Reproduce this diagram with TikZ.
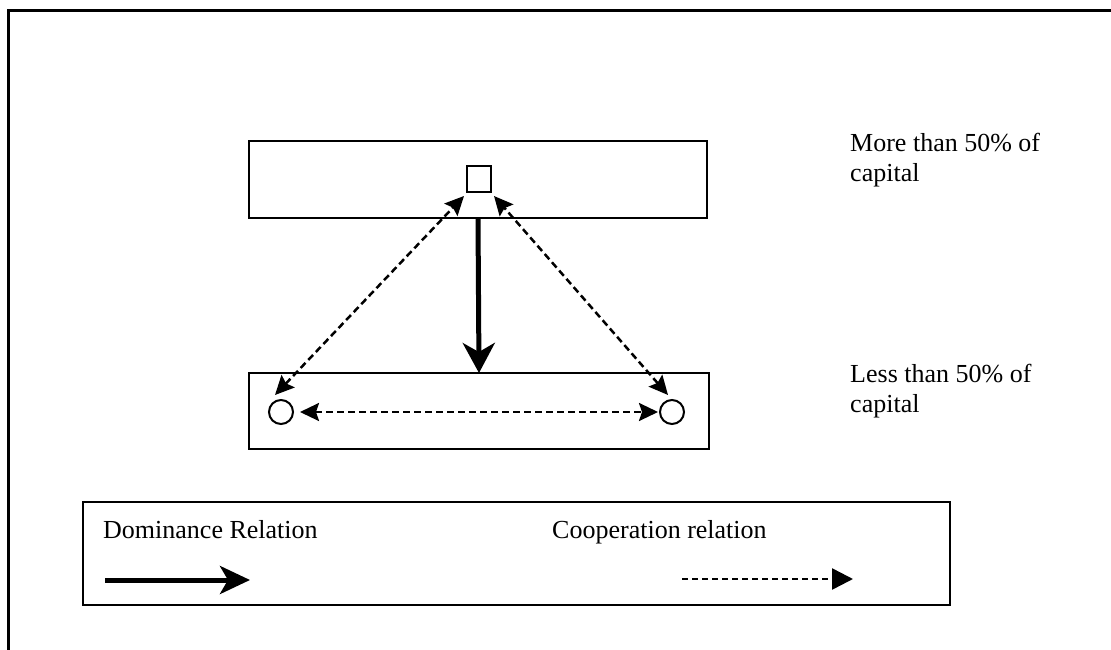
\documentclass[tikz,border=0pt]{standalone}
\usepackage{fontspec}
\setmainfont{Liberation Serif}
\usetikzlibrary{arrows.meta}
\begin{document}
\begin{tikzpicture}[x=1pt,y=-1pt,
  box/.style={draw, line width=2pt, inner sep=0pt, outer sep=0pt, rectangle},
  ring/.style={draw, line width=2pt, circle, inner sep=0pt, outer sep=0pt, minimum size=24pt},
  domarrow/.style={line width=5pt, -{Stealth[length=30pt,width=32pt,inset=9pt]}},
  legdom/.style={line width=5pt, -{Stealth[length=30pt,width=28pt,inset=8pt]}},
  coop/.style={line width=2.5pt, dash pattern=on 7pt off 4pt,
    {Stealth[length=19pt,width=18pt,inset=3pt]}-{Stealth[length=19pt,width=18pt,inset=3pt]}},
  legcoop/.style={line width=2.5pt, dash pattern=on 6pt off 4pt, -{Triangle[length=21pt,width=21pt]}},
  lbl/.style={anchor=base west, inner sep=0pt, font=\fontsize{26}{30}\selectfont, align=left}
]
\useasboundingbox (0,0) rectangle (1111,650);
% outer frame
\draw[line width=3pt] (8,660) -- (8,11) -- (1120,11);

% boxes
\node[box, minimum width=458pt, minimum height=77pt] (top) at (478,179.5) {};
\node[box, minimum width=24pt, minimum height=26pt] (sq) at (479,179) {};
\node[box, minimum width=460pt, minimum height=76pt] (bot) at (479,411) {};
\node[ring] (cl) at (281,412) {};
\node[ring] (cr) at (672,412) {};

% relations
\draw[domarrow] (top.south) -- (bot.north);
\draw[coop] ([shift={(-6,-17)}]cl.center) -- ([shift={(-3,4)}]sq.south west);
\draw[coop] ([shift={(-4,-17)}]cr.center) -- ([shift={(3,4)}]sq.south east);
\draw[coop] ([shift={(7,0)}]cl.east) -- ([shift={(-2,0)}]cr.west);

% side labels
\node[lbl] (more) at (850,181) {More than 50\% of\\capital};
\node[lbl] (less) at (850,412) {Less than 50\% of\\capital};

% legend
\node[box, minimum width=867pt, minimum height=103pt] (legend) at (516.5,553.5) {};
\node[lbl] (domtxt) at (103,538) {Dominance Relation};
\node[lbl] (cooptxt) at (552,538) {Cooperation relation};
\coordinate (d1) at (105,580);
\coordinate (d2) at (250,580);
\coordinate (c1) at (682,579);
\coordinate (c2) at (853,579);
\draw[legdom] (d1) -- (d2);
\draw[legcoop] (c1) -- (c2);
\end{tikzpicture}
\end{document}
